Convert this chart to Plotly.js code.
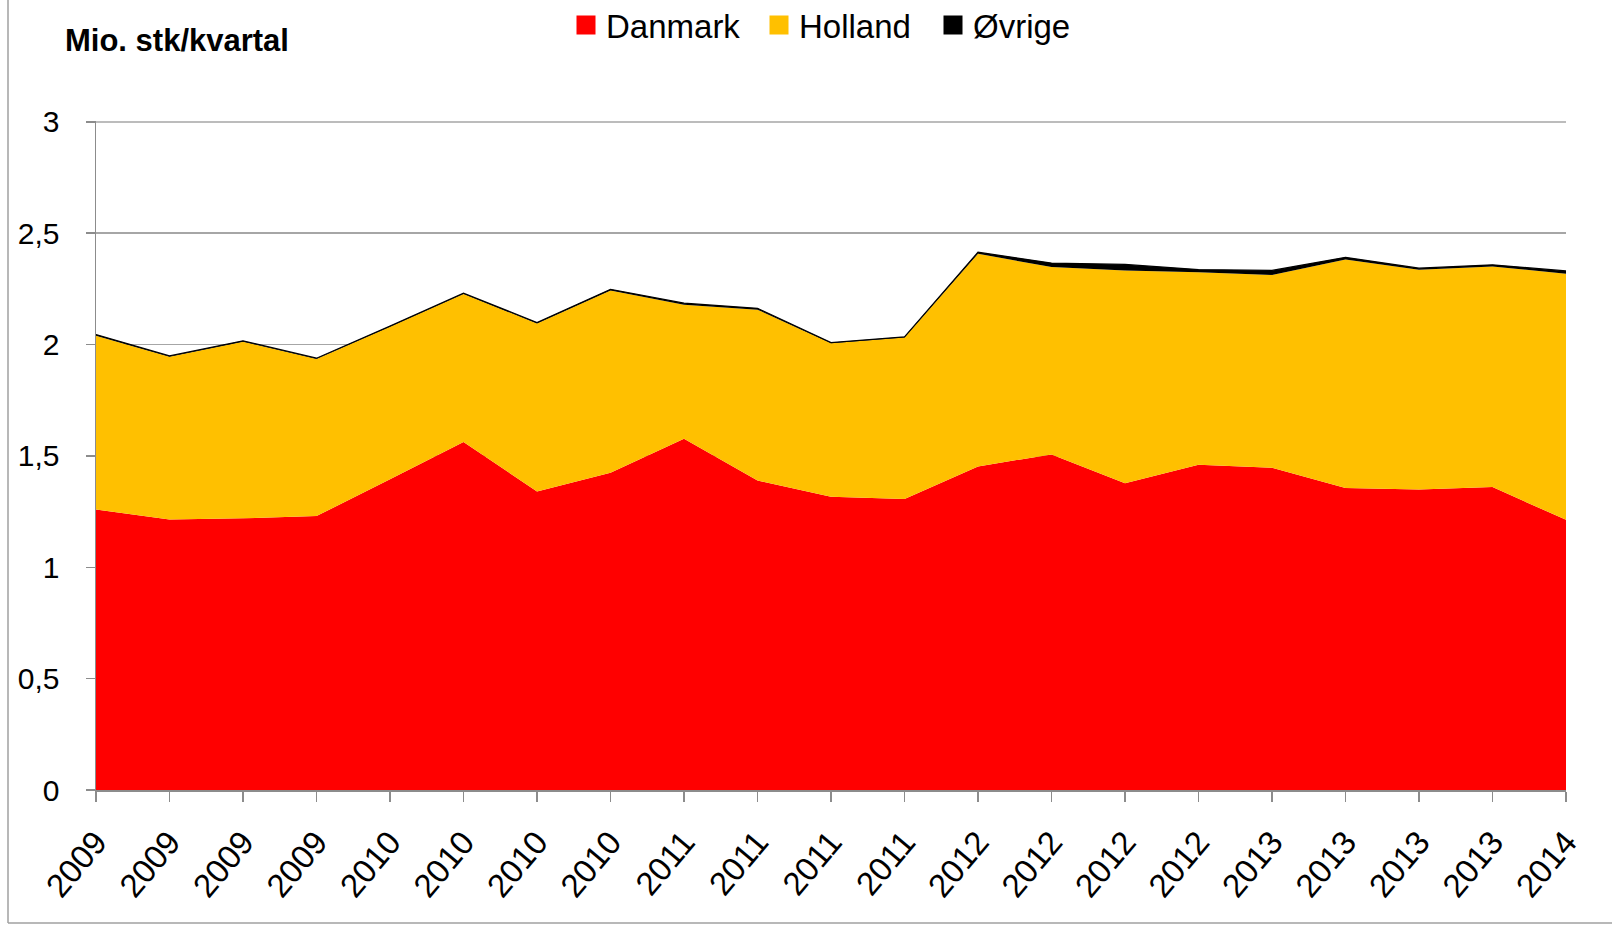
<!DOCTYPE html>
<html>
<head>
<meta charset="utf-8">
<script src="https://cdn.plot.ly/plotly-3.0.1.min.js"></script>
<style>html,body{margin:0;padding:0;background:#fff;}#chart{width:1612px;height:926px;}</style>
</head>
<body>
<div id="chart"></div>
<script>
// Tick labels (quarters)
const quarters = ['2009','2009','2009','2009','2010','2010','2010','2010','2011','2011','2011','2011',
                  '2012','2012','2012','2012','2013','2013','2013','2013','2014'];
// Series values (Mio. stk per quarter)
const danmark = [1.26, 1.215, 1.22, 1.23, 1.395, 1.563, 1.34, 1.424, 1.577, 1.39, 1.317, 1.307,
                 1.453, 1.507, 1.377, 1.46, 1.447, 1.356, 1.349, 1.36, 1.213];
const holland = [0.78, 0.73, 0.793, 0.705, 0.685, 0.664, 0.755, 0.819, 0.602, 0.767, 0.689, 0.725,
                 0.955, 0.841, 0.956, 0.865, 0.866, 1.026, 0.987, 0.991, 1.105];
const ovrige  = [0.005, 0.004, 0.004, 0.004, 0.003, 0.004, 0.004, 0.005, 0.007, 0.006, 0.003, 0.003,
                 0.007, 0.018, 0.027, 0.012, 0.02, 0.01, 0.007, 0.007, 0.013];
const seriesNames = ['Danmark', 'Holland', 'Øvrige'];
const seriesColors = ['#FF0000', '#FFC000', '#000000'];
const yTicks = [0, 0.5, 1, 1.5, 2, 2.5, 3];

const xIdx = quarters.map((_, i) => i);
const FONT = '"Liberation Sans", Arial, sans-serif';
const values = [danmark, holland, ovrige];
const legendIds = ['legend', 'legend2', 'legend3'];

// stacked areas (legend entries drawn by legend-only square-marker traces below)
const traces = values.map((vals, k) => ({
  x: xIdx, y: vals, name: seriesNames[k], type: 'scatter', mode: 'lines', stackgroup: 'one',
  fillcolor: seriesColors[k], showlegend: false, hoverinfo: 'skip',
  line: {width: k === 2 ? 1.2 : 0, color: seriesColors[k]}
}));
seriesNames.forEach((nm, k) => traces.push({
  x: [null], y: [null], name: nm, type: 'scatter', mode: 'markers', showlegend: true,
  legend: legendIds[k],
  marker: {symbol: 'square', size: 16, color: seriesColors[k], line: {width: 3, color: seriesColors[k]}}
}));

const W = 1612, H = 926, ML = 96, MR = 46, MT = 121, MB = 136;
const PW = W - ML - MR, PH = H - MT - MB;
const px = v => (v - ML) / PW;          // pixel -> paper x
const py = v => (H - MB - v) / PH;      // pixel -> paper y

const legendLeft = [566, 759, 933];     // pixel positions of each legend box
const mkLegend = (left) => ({
  orientation: 'h', xref: 'container', x: left / W, xanchor: 'left',
  yref: 'container', y: 1 - 25 / H, yanchor: 'middle',
  font: {family: FONT, size: 33, color: '#000'}, itemwidth: 30,
  bgcolor: 'rgba(0,0,0,0)', borderwidth: 0
});

const layout = {
  width: W, height: H,
  margin: {l: ML, r: MR, t: MT, b: MB, pad: 0, autoexpand: false},
  paper_bgcolor: '#ffffff', plot_bgcolor: '#ffffff',
  separators: ',.',
  font: {family: FONT, size: 30, color: '#000'},
  showlegend: true,
  legend: mkLegend(legendLeft[0]),
  legend2: mkLegend(legendLeft[1]),
  legend3: mkLegend(legendLeft[2]),
  xaxis: {range: [0, 20], tickmode: 'array', tickvals: xIdx, ticktext: quarters,
          tickangle: -50, ticks: 'outside', ticklen: 10, tickcolor: '#8c8c8c', tickwidth: 1.5,
          showline: true, linecolor: '#8c8c8c', linewidth: 1.5, showgrid: false, zeroline: false,
          ticklabelstandoff: 8,
          tickfont: {family: FONT, size: 33, color: '#000'}, fixedrange: true},
  yaxis: {range: [0, 3.004], tickmode: 'array', tickvals: yTicks, ticks: 'outside', ticklen: 9,
          tickcolor: '#8c8c8c', tickwidth: 1.5, showline: true, linecolor: '#8c8c8c', linewidth: 1.5,
          showgrid: true, gridcolor: '#a6a6a6', gridwidth: 1.5, zeroline: false,
          ticklabelstandoff: 20,
          tickfont: {family: FONT, size: 30, color: '#000'}, fixedrange: true},
  annotations: [
    {text: '<b>Mio. stk/kvartal</b>', xref: 'paper', yref: 'paper', x: px(63), y: py(41),
     xanchor: 'left', yanchor: 'middle', showarrow: false,
     font: {family: FONT, size: 31, color: '#000'}}
  ],
  shapes: [
    // top gridline at the last y tick (Plotly omits gridlines at the range edge)
    {type: 'line', xref: 'paper', yref: 'y', x0: 0, x1: 1,
     y0: yTicks[yTicks.length - 1], y1: yTicks[yTicks.length - 1],
     line: {color: '#a6a6a6', width: 1.5}, layer: 'below'},
    {type: 'line', xref: 'paper', yref: 'paper', x0: px(8), x1: px(8), y0: py(0), y1: py(923),
     line: {color: '#a0a0a0', width: 1.5}},
    {type: 'line', xref: 'paper', yref: 'paper', x0: px(8), x1: px(1612), y0: py(923), y1: py(923),
     line: {color: '#a0a0a0', width: 1.5}}
  ]
};

Plotly.newPlot('chart', traces, layout, {displayModeBar: false, staticPlot: true});
</script>
</body>
</html>
